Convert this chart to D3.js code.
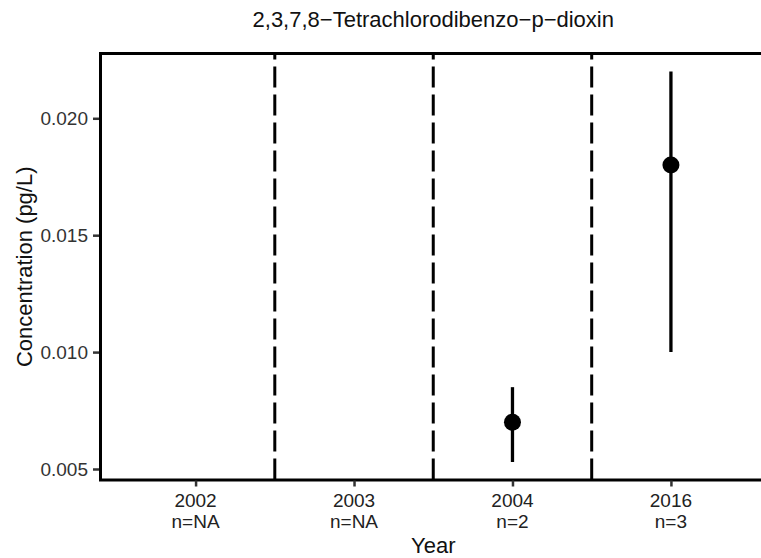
<!DOCTYPE html>
<html>
<head>
<meta charset="utf-8">
<script src="https://cdn.jsdelivr.net/npm/d3@7"></script>
<style>
  body { margin: 0; background: #fff; }
  svg { display: block; font-family: "Liberation Sans", Arial, sans-serif; }
</style>
</head>
<body>
<svg id="chart" width="761" height="558"></svg>
<script>
// Sampling years and sample counts
const years = ["2002", "2003", "2004", "2016"];
const counts = ["NA", "NA", "2", "3"];
// Mean concentration with lower / upper bounds (pg/L); null where no data
const means = [null, null, 0.007, 0.018];
const lows  = [null, null, 0.0053, 0.010];
const highs = [null, null, 0.0085, 0.022];
const yTicks = [0.005, 0.010, 0.015, 0.020];

const title = "2,3,7,8\u2212Tetrachlorodibenzo\u2212p\u2212dioxin";
const xTitle = "Year";
const yTitle = "Concentration (pg/L)";

const svg = d3.select("#chart");
const pLeft = 100.5, pRight = 766, pTop = 52, pBottom = 481.5;

// Discrete x positions with 0.6 padding on each side
const x = d3.scalePoint().domain(years).range([pLeft, pRight]).padding(0.6);

// Continuous y with 5% expansion around the data range
const lo = d3.min(lows.filter(v => v != null));
const hi = d3.max(highs.filter(v => v != null));
const pad = (hi - lo) * 0.05;
const y = d3.scaleLinear().domain([lo - pad, hi + pad]).range([pBottom, pTop]);

// Dashed separators between years
const step = x.step();
svg.append("g").selectAll("line")
  .data(years.slice(0, -1))
  .join("line")
  .attr("x1", d => x(d) + step / 2).attr("x2", d => x(d) + step / 2)
  .attr("y1", pBottom - 2).attr("y2", pTop + 1)
  .attr("stroke", "#000").attr("stroke-width", 3)
  .attr("stroke-dasharray", "21,7");

// Error ranges and means
const rows = years.map((yr, i) => ({ yr, m: means[i], l: lows[i], h: highs[i] }))
  .filter(d => d.m != null);
svg.append("g").selectAll("line")
  .data(rows).join("line")
  .attr("x1", d => x(d.yr)).attr("x2", d => x(d.yr))
  .attr("y1", d => y(d.l)).attr("y2", d => y(d.h))
  .attr("stroke", "#000").attr("stroke-width", 3.3);
svg.append("g").selectAll("circle")
  .data(rows).join("circle")
  .attr("cx", d => x(d.yr)).attr("cy", d => y(d.m))
  .attr("r", 8.5).attr("fill", "#000");

// Panel border
svg.append("rect")
  .attr("x", pLeft).attr("y", pTop + 1.5)
  .attr("width", 800).attr("height", pBottom - pTop - 3)
  .attr("fill", "none").attr("stroke", "#000").attr("stroke-width", 3);

// Y axis
const yAxis = d3.axisLeft(y).tickValues(yTicks).tickFormat(d3.format(".3f"))
  .tickSize(6).tickPadding(5);
const gy = svg.append("g").attr("transform", `translate(${pLeft - 1.5},0)`).call(yAxis);
gy.select(".domain").remove();
gy.selectAll(".tick line").attr("stroke", "#333").attr("stroke-width", 2.5);
gy.selectAll(".tick text").attr("fill", "#333").attr("font-size", 19)
  .attr("font-family", "Liberation Sans, Arial, sans-serif");

// X axis
const xAxis = d3.axisBottom(x).tickSize(6).tickPadding(5).tickFormat(() => "");
const gx = svg.append("g").attr("transform", `translate(0,${pBottom - 1})`).call(xAxis);
gx.select(".domain").remove();
gx.selectAll(".tick line").attr("stroke", "#333").attr("stroke-width", 2.5);
const lab = svg.append("g").attr("fill", "#222").attr("font-size", 19).attr("text-anchor", "middle");
years.forEach((yr, i) => {
  lab.append("text").attr("x", x(yr)).attr("y", 507).text(yr);
  lab.append("text").attr("x", x(yr)).attr("y", 528).text("n=" + counts[i]);
});

// Titles
svg.append("text").attr("x", (pLeft + pRight) / 2).attr("y", 27)
  .attr("text-anchor", "middle").attr("font-size", 22).attr("fill", "#111").text(title);
svg.append("text").attr("x", (pLeft + pRight) / 2).attr("y", 553)
  .attr("text-anchor", "middle").attr("font-size", 22).attr("fill", "#111").text(xTitle);
svg.append("text")
  .attr("transform", `translate(32,${(pTop + pBottom) / 2}) rotate(-90)`)
  .attr("text-anchor", "middle").attr("font-size", 22).attr("fill", "#111").text(yTitle);
</script>
</body>
</html>
